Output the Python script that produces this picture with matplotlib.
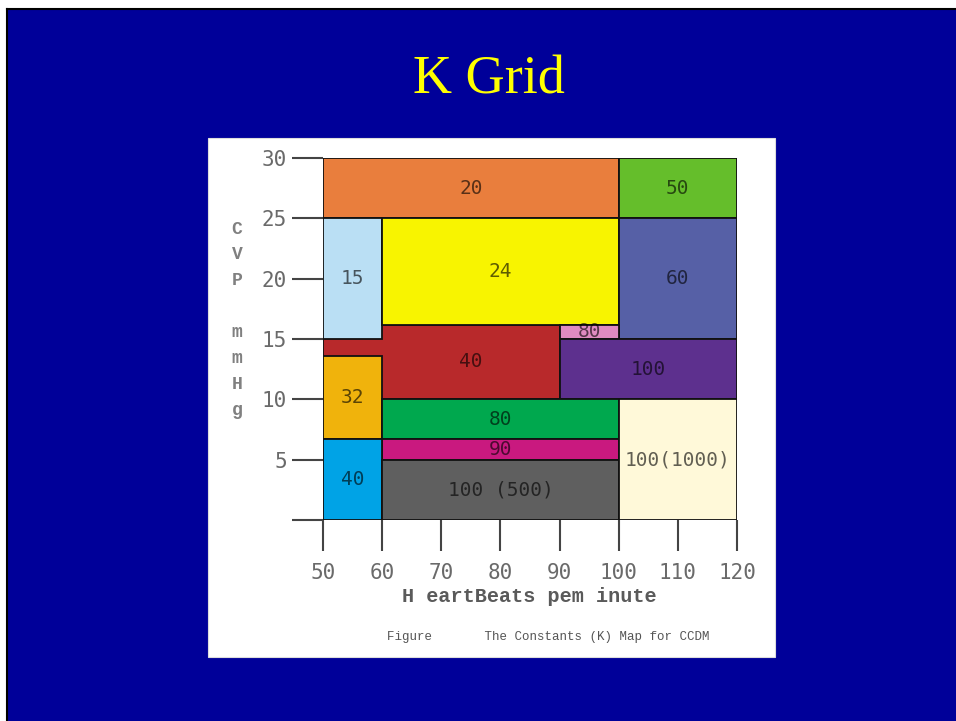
import matplotlib
matplotlib.use('Agg')
import matplotlib.pyplot as plt
from matplotlib.patches import Rectangle
from matplotlib.lines import Line2D

# blocks of the K map: x from/to (beats per minute), y from/to (CVP mmHg)
labels = ['40', '20', '50', '15', '24', '60', '80', '100', '32', '80', '90', '40', '100 (500)', '100(1000)']
x_from = [50, 50, 100, 50, 60, 100, 90, 90, 50, 60, 60, 50, 60, 100]
x_to = [90, 100, 120, 60, 100, 120, 100, 120, 60, 100, 100, 60, 100, 120]
y_from = [10, 25, 25, 15, 16.2, 15, 15, 10, 6.7, 6.7, 5, 0, 0, 0]
y_to = [16.2, 30, 30, 25, 25, 25, 16.2, 15, 13.6, 10, 6.7, 6.7, 5, 10]
colors = ['#B8292B', '#E97E3D', '#65BE2B', '#BADFF4', '#F8F400', '#5660A6', '#E08BC1',
          '#5D308E', '#F0B30C', '#00A84E', '#C9197F', '#00A3E6', '#5F5F5F', '#FFF9D9']

x_ticks = [50, 60, 70, 80, 90, 100, 110, 120]
y_ticks = [0, 5, 10, 15, 20, 25, 30]
y_ticklabels = ['', '5', '10', '15', '20', '25', '30']

W, H = 956, 721
fig = plt.figure(figsize=(W / 100, H / 100), dpi=100)
fig.patch.set_facecolor('white')

def fx(px):
    return px / W

def fy(py):
    return 1 - py / H

# slide background (dark line only on top and left) and white picture panel
fig.add_artist(Rectangle((fx(7), -0.01), 1.02 - fx(7), fy(9) + 0.01, transform=fig.transFigure,
                         facecolor='#000099', edgecolor='none', zorder=-3))
fig.add_artist(Line2D([fx(7), 1], [fy(9), fy(9)], transform=fig.transFigure, color='black', lw=1.5, zorder=-2.5))
fig.add_artist(Line2D([fx(7), fx(7)], [0, fy(9)], transform=fig.transFigure, color='black', lw=1.5, zorder=-2.5))
fig.add_artist(Rectangle((fx(208), fy(657)), fx(775 - 208), (657 - 138) / H, transform=fig.transFigure,
                         facecolor='white', edgecolor='#dddddd', lw=0.8, zorder=-2))

fig.text(fx(489), fy(80), 'K Grid', color='#FFFF00', fontsize=39,
         family='Liberation Serif', ha='center', va='center')

ax = fig.add_axes([fx(323), fy(520), fx(737 - 323), (520 - 158) / H])
ax.set_facecolor('none')
ax.set_xlim(50, 120)
ax.set_ylim(0, 30)
for s in ax.spines.values():
    s.set_visible(False)

for i in range(len(labels)):
    ax.bar(x_from[i], y_to[i] - y_from[i], width=x_to[i] - x_from[i], bottom=y_from[i],
           align='edge', color=colors[i], edgecolor='#111111', linewidth=1.3, zorder=2 + i * 0.01)
    cx = (x_from[i] + x_to[i]) / 2
    if i == 0:
        # red block is partly hidden on the left, label sits in its visible part
        cx = (60 + x_to[i]) / 2
    cy = (y_from[i] + y_to[i]) / 2
    ax.text(cx, cy, labels[i], ha='center', va='center', fontsize=14,
            family='DejaVu Sans Mono', color='black', alpha=0.62, zorder=5)

ax.set_xticks(x_ticks)
ax.set_yticks(y_ticks)
ax.set_yticklabels(y_ticklabels)
ax.tick_params(axis='x', direction='out', length=22, width=1.5, color='#444444', pad=9,
               labelsize=15, labelcolor='#6a6a6a')
ax.tick_params(axis='y', direction='out', length=22, width=1.5, color='#444444', pad=4,
               labelsize=15, labelcolor='#6a6a6a')
for t in ax.get_xticklabels() + ax.get_yticklabels():
    t.set_family('DejaVu Sans Mono')

fig.text(fx(529), fy(597), 'H eartBeats pem inute', ha='center', va='center', fontsize=14.5,
         family='Liberation Mono', weight='bold', color='#5a5a5a')
fig.text(fx(548), fy(637), 'Figure       The Constants (K) Map for CCDM', ha='center', va='center',
         fontsize=9, family='Liberation Mono', color='#555555')

# vertical axis title, one letter per line
ylab = 'CVP mmHg'
for k, ch in enumerate(ylab):
    fig.text(fx(237), fy(229 + k * 25.9), ch, ha='center', va='center', fontsize=13,
             family='Liberation Mono', weight='bold', color='#808080')

fig.savefig('out.png', dpi=100)
